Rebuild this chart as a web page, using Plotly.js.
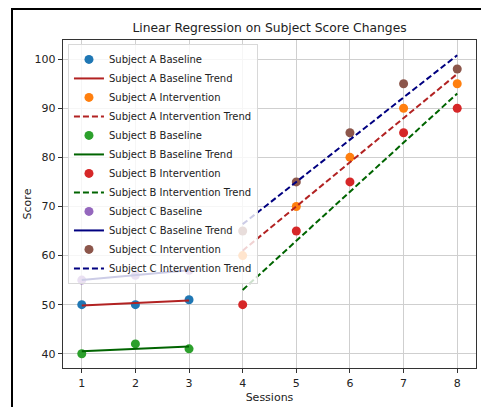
<!DOCTYPE html>
<html>
<head>
<meta charset="utf-8">
<script src="https://cdn.plot.ly/plotly-3.0.1.min.js"></script>
<style>html,body{margin:0;padding:0;background:#fff;}#chart{width:481px;height:407px;}</style>
</head>
<body>
<div id="chart"></div>
<script>
// Data
const baselineSessions = [1, 2, 3];
const interventionSessions = [4, 5, 6, 7, 8];

const subjectABaseline = [50, 50, 51];
const subjectABaselineTrend = [49.83, 50.33, 50.83];
const subjectAIntervention = [60, 70, 80, 90, 95];
const subjectAInterventionTrend = [61, 70, 79, 88, 97];

const subjectBBaseline = [40, 42, 41];
const subjectBBaselineTrend = [40.5, 41, 41.5];
const subjectBIntervention = [50, 65, 75, 85, 90];
const subjectBInterventionTrend = [53, 63, 73, 83, 93];

const subjectCBaseline = [55, 56, 57];
const subjectCBaselineTrend = [55, 56, 57];
const subjectCIntervention = [65, 75, 85, 95, 98];
const subjectCInterventionTrend = [66.4, 75, 83.6, 92.2, 100.8];

const xTicks = [1, 2, 3, 4, 5, 6, 7, 8];
const yTicks = [40, 50, 60, 70, 80, 90, 100];

const FONT = "DejaVu Sans, sans-serif";
const dash = "6px,3px";

function pts(name, x, y, color) {
  return {type: "scatter", mode: "markers", name: name, x: x, y: y,
    marker: {color: color, size: 9}};
}
function trend(name, x, y, color, dashed) {
  return {type: "scatter", mode: "lines", name: name, x: x, y: y,
    line: {color: color, width: 2, dash: dashed ? dash : "solid"}};
}

const traces = [
  pts("Subject A Baseline", baselineSessions, subjectABaseline, "#1f77b4"),
  trend("Subject A Baseline Trend", baselineSessions, subjectABaselineTrend, "#b22222", false),
  pts("Subject A Intervention", interventionSessions, subjectAIntervention, "#ff7f0e"),
  trend("Subject A Intervention Trend", interventionSessions, subjectAInterventionTrend, "#b22222", true),
  pts("Subject B Baseline", baselineSessions, subjectBBaseline, "#2ca02c"),
  trend("Subject B Baseline Trend", baselineSessions, subjectBBaselineTrend, "#006400", false),
  pts("Subject B Intervention", interventionSessions, subjectBIntervention, "#d62728"),
  trend("Subject B Intervention Trend", interventionSessions, subjectBInterventionTrend, "#006400", true),
  pts("Subject C Baseline", baselineSessions, subjectCBaseline, "#9467bd"),
  trend("Subject C Baseline Trend", baselineSessions, subjectCBaselineTrend, "#000080", false),
  pts("Subject C Intervention", interventionSessions, subjectCIntervention, "#8c564b"),
  trend("Subject C Intervention Trend", interventionSessions, subjectCInterventionTrend, "#000080", true)
];

const axisCommon = {
  showgrid: true, gridcolor: "#cfcfcf", gridwidth: 1,
  zeroline: false, showline: true, linecolor: "#333", linewidth: 1.3, mirror: true,
  ticks: "outside", ticklen: 4, tickwidth: 1, tickcolor: "#333",
  tickfont: {family: FONT, size: 11, color: "#222"}
};

const layout = {
  width: 481, height: 407,
  margin: {l: 63, r: 5, t: 40, b: 39},
  paper_bgcolor: "#fff", plot_bgcolor: "#fff",
  font: {family: FONT, size: 11, color: "#222"},
  title: {text: "Linear Regression on Subject Score Changes",
    font: {family: FONT, size: 12.3, color: "#222"},
    x: 0.5, xref: "paper", xanchor: "center", y: 1 - 28/407, yref: "container", yanchor: "middle"},
  xaxis: Object.assign({}, axisCommon, {range: [0.65, 8.35], tickvals: xTicks,
    title: {text: "Sessions", font: {family: FONT, size: 11, color: "#222"}, standoff: 4}}),
  yaxis: Object.assign({}, axisCommon, {range: [37.1, 103.9], tickvals: yTicks,
    title: {text: "Score", font: {family: FONT, size: 11, color: "#222"}, standoff: 0}}),
  showlegend: true,
  legend: {x: 0.012, y: 0.988, xanchor: "left", yanchor: "top",
    bgcolor: "rgba(255,255,255,0.8)", bordercolor: "#d8d8d8", borderwidth: 1,
    font: {family: FONT, size: 10, color: "#222"}, itemwidth: 30, tracegroupgap: 0},
  shapes: [{type: "rect", xref: "paper", yref: "paper",
    x0: (12 - 63) / 413, x1: 1.1, y0: -0.2, y1: 1 + (40 - 9) / 328,
    line: {color: "#000", width: 2}, fillcolor: "rgba(0,0,0,0)", layer: "below"}]
};

Plotly.newPlot("chart", traces, layout, {displayModeBar: false, staticPlot: true});
</script>
</body>
</html>
